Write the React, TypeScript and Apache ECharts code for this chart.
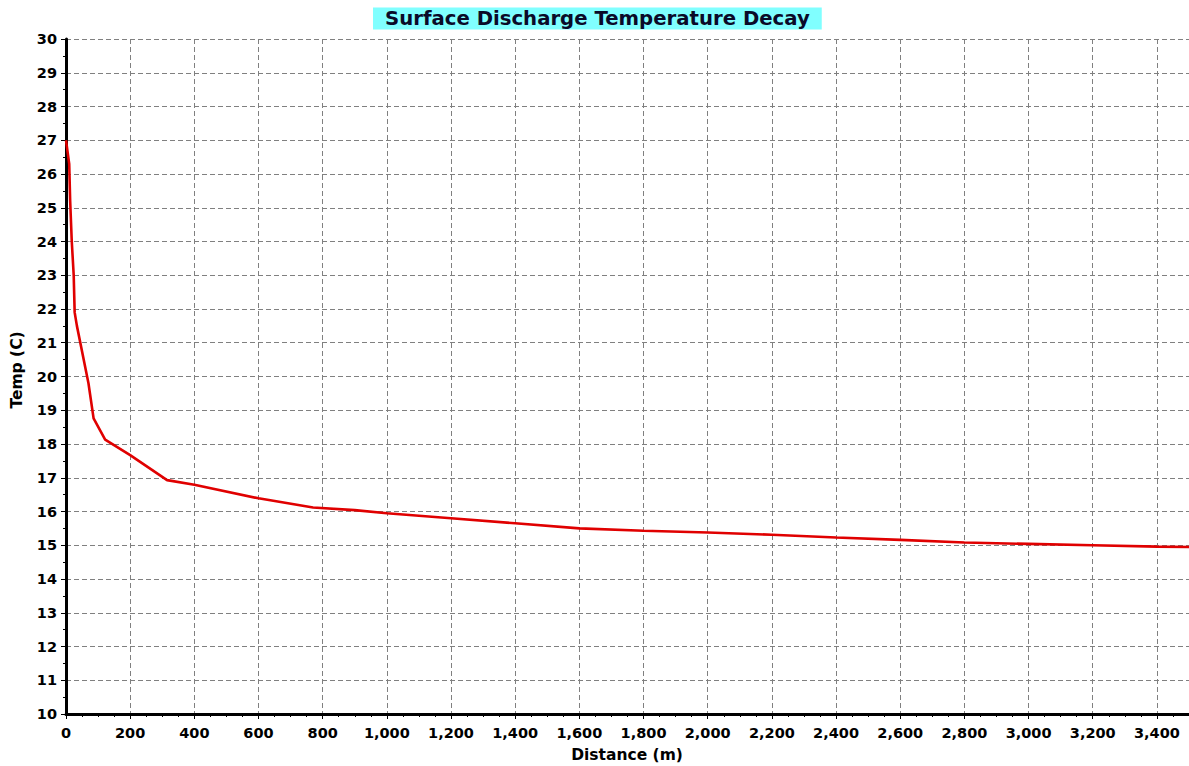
import React, { useEffect, useRef } from "react";
import * as echarts from "echarts";

const titleText = "Surface Discharge Temperature Decay";
const xAxisName = "Distance (m)";
const yAxisName = "Temp (C)";

const distance = [0, 10, 13, 18, 24, 27, 34, 70, 86, 122, 200, 315, 400, 600, 770, 900, 1000, 1200, 1400, 1600, 1800, 2000, 2200, 2400, 2600, 2800, 3000, 3200, 3400, 3500];
const temperature = [27.0, 26.3, 25.2, 24.0, 23.0, 21.9, 21.5, 19.8, 18.76, 18.13, 17.67, 16.93, 16.79, 16.39, 16.12, 16.04, 15.95, 15.8, 15.65, 15.5, 15.43, 15.38, 15.31, 15.23, 15.16, 15.08, 15.04, 15.0, 14.96, 14.95];

const xMin = 0;
const xMax = 3500;
const xStep = 200;
const yMin = 10;
const yMax = 30;
const yStep = 1;

const FONT = "'DejaVu Sans', Verdana, sans-serif";

export default function App() {
  const ref = useRef<HTMLDivElement>(null);

  useEffect(() => {
    if (!ref.current) return;
    const chart = echarts.init(ref.current, null, { renderer: "svg" });
    const data = distance.map((d, i) => [d, temperature[i]]);
    const gridLine = { show: true, lineStyle: { color: "#808080", width: 1, type: [5, 3] as any } };
    chart.setOption({
      animation: false,
      backgroundColor: "#ffffff",
      title: {
        text: titleText,
        left: 373,
        top: 8,
        backgroundColor: "#80ffff",
        padding: [1, 12, 1, 12],
        textStyle: {
          fontFamily: FONT,
          fontWeight: "bold",
          fontSize: 19.7,
          lineHeight: 19,
          color: "#0a0a28",
        },
      },
      grid: { left: 66, right: -2, top: 39, bottom: 52, containLabel: false },
      xAxis: {
        type: "value",
        min: xMin,
        max: xMax,
        interval: xStep,
        axisLine: { show: true, onZero: false, lineStyle: { color: "#000", width: 3 } },
        axisTick: { show: true, length: 5, lineStyle: { color: "#000", width: 1 } },
        minorTick: { show: true, splitNumber: 4, length: 3, lineStyle: { color: "#000", width: 1 } },
        splitLine: gridLine,
        axisLabel: {
          showMaxLabel: false,
          margin: 11,
          fontFamily: FONT,
          fontWeight: "bold",
          fontSize: 14.5,
          color: "#000",
          formatter: (v: number) => v.toLocaleString("en-US"),
        },
      },
      yAxis: {
        type: "value",
        min: yMin,
        max: yMax,
        interval: yStep,
        axisLine: { show: true, onZero: false, lineStyle: { color: "#000", width: 3 } },
        axisTick: { show: true, length: 5, lineStyle: { color: "#000", width: 1 } },
        minorTick: { show: true, splitNumber: 2, length: 3, lineStyle: { color: "#000", width: 1 } },
        splitLine: gridLine,
        axisLabel: {
          margin: 9,
          fontFamily: FONT,
          fontWeight: "bold",
          fontSize: 14.5,
          color: "#000",
        },
      },
      graphic: [
        {
          type: "text",
          x: 17,
          y: 370,
          rotation: Math.PI / 2,
          style: {
            text: yAxisName,
            fontFamily: FONT,
            fontWeight: "bold",
            fontSize: 15.5,
            fill: "#000",
            align: "center",
            verticalAlign: "middle",
          },
        },
        {
          type: "text",
          x: 627,
          y: 755,
          style: {
            text: xAxisName,
            fontFamily: FONT,
            fontWeight: "bold",
            fontSize: 15.5,
            fill: "#000",
            align: "center",
            verticalAlign: "middle",
          },
        },
      ],
      series: [
        {
          type: "line",
          data,
          showSymbol: false,
          symbol: "none",
          lineStyle: { color: "#e00000", width: 2.6 },
          z: 5,
        },
      ],
    });
    return () => chart.dispose();
  }, []);

  return (
    <div
      ref={ref}
      style={{ position: "absolute", left: 0, top: 0, width: 1189, height: 766 }}
    />
  );
}
